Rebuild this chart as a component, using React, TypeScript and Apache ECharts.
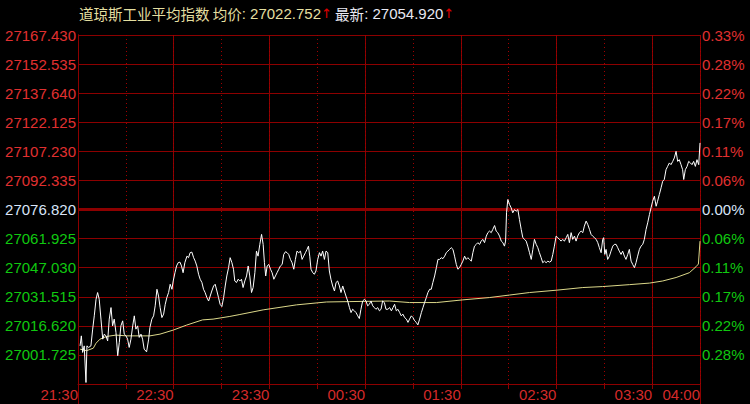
import React, { useEffect, useRef } from 'react';
import * as echarts from 'echarts';

// ---- title texts ----
const titleName = '道琼斯工业平均指数';
const avgLabel = '均价';
const avgValue = '27022.752';
const lastLabel = '最新';
const lastValue = '27054.920';

// ---- price axis (left) ----
const axisTop = 27167.43;
const axisBottom = 26986.21;
const prevClose = 27076.82;
const rows = 12;
const priceLabels = [
  '27167.430', '27152.535', '27137.640', '27122.125', '27107.230', '27092.335',
  '27076.820', '27061.925', '27047.030', '27031.515', '27016.620', '27001.725', '',
];
const pctLabels = [
  '0.33%', '0.28%', '0.22%', '0.17%', '0.11%', '0.06%',
  '0.00%', '0.06%', '0.11%', '0.17%', '0.22%', '0.28%', '',
];

// ---- time axis (minutes after 21:30) ----
const timeLabels = ['21:30', '22:30', '23:30', '00:30', '01:30', '02:30', '03:30', '04:00'];
const timeLabelMinutes = [0, 60, 120, 180, 240, 300, 360, 390];
const sessionMinutes = 390;

// ---- price line ----
const priceMinutes = [
  1.3, 2.1, 2.9, 3.9, 5.0, 5.6, 6.7, 8.1, 9.2, 10.2,
  11.3, 12.3, 13.3, 14.4, 15.5, 16.5, 17.5, 18.6, 19.6, 20.7,
  21.7, 22.7, 23.8, 24.9, 25.9, 26.9, 28.0, 29.0, 30.1, 31.1,
  32.1, 33.2, 34.3, 35.3, 36.3, 37.4, 38.4, 39.5, 40.5, 41.5,
  43.0, 44.3, 45.1, 46.3, 47.4, 48.4, 49.5, 50.5, 51.5, 52.6,
  53.7, 54.7, 55.7, 56.8, 57.8, 58.9, 59.7, 60.8, 61.8, 62.8,
  63.9, 64.9, 65.9, 67.0, 68.3, 69.3, 70.3, 71.4, 72.5, 73.5,
  74.5, 75.6, 76.6, 77.7, 78.7, 79.7, 80.8, 81.9, 82.9, 83.9,
  85.0, 86.0, 87.1, 88.1, 89.1, 90.2, 91.3, 92.3, 93.3, 94.4,
  95.4, 96.5, 97.5, 98.3, 99.4, 100.4, 101.5, 102.5, 103.5, 104.6,
  105.7, 106.7, 107.7, 108.8, 109.8, 110.9, 111.9, 112.9, 114.0, 115.1,
  116.1, 116.9, 117.7, 118.6, 119.6, 120.7, 121.7, 122.8, 123.8, 124.8,
  125.9, 126.9, 128.0, 129.0, 130.1, 131.1, 132.1, 133.2, 134.2, 135.3,
  136.3, 137.3, 138.4, 139.5, 140.5, 141.5, 142.6, 143.6, 144.5, 145.3,
  146.1, 147.2, 148.2, 149.2, 150.3, 151.4, 152.4, 153.4, 154.5, 155.5,
  156.6, 157.6, 158.6, 159.7, 160.8, 161.8, 162.8, 163.9, 164.9, 166.0,
  167.0, 168.0, 169.1, 170.2, 171.2, 172.2, 173.3, 174.3, 175.4, 176.4,
  177.4, 178.5, 179.6, 180.6, 181.6, 182.7, 183.7, 184.8, 185.8, 186.8,
  187.9, 189.0, 190.0, 191.0, 192.1, 193.1, 194.3, 195.4, 196.5, 197.5,
  198.5, 199.6, 200.6, 201.7, 202.7, 203.7, 204.8, 205.9, 206.9, 207.9,
  209.0, 210.0, 211.1, 212.1, 213.1, 214.2, 215.3, 216.3, 217.3, 218.4,
  219.4, 220.5, 221.5, 222.5, 223.6, 224.7, 225.7, 226.7, 227.8, 228.8,
  229.9, 230.9, 231.9, 233.0, 234.0, 235.1, 236.1, 237.2, 238.2, 239.2,
  240.3, 241.3, 242.4, 243.4, 244.4, 245.5, 246.6, 247.6, 248.6, 249.7,
  250.7, 251.8, 252.8, 253.8, 254.9, 256.0, 257.0, 258.0, 259.1, 260.1,
  261.2, 262.2, 263.2, 264.3, 265.4, 266.4, 267.4, 268.1, 268.7, 269.5,
  270.6, 271.6, 272.6, 273.7, 274.7, 275.8, 276.8, 277.9, 278.9, 280.0,
  281.0, 282.0, 283.1, 284.2, 285.2, 286.2, 287.3, 288.3, 289.3, 290.4,
  291.4, 292.5, 293.5, 294.6, 295.6, 296.7, 297.7, 298.7, 299.8, 300.8,
  301.9, 302.9, 303.9, 305.0, 306.1, 307.1, 308.1, 309.2, 310.2, 311.3,
  312.3, 313.3, 314.4, 315.5, 316.5, 317.5, 318.6, 319.6, 320.7, 321.7,
  322.7, 323.8, 324.9, 325.9, 326.9, 328.0, 329.0, 329.6, 330.3, 331.1,
  332.1, 333.2, 334.2, 335.3, 336.3, 337.4, 338.4, 339.4, 340.5, 341.5,
  342.6, 343.6, 344.7, 345.7, 346.8, 347.8, 348.9, 349.9, 350.9, 352.0,
  353.0, 354.1, 355.1, 356.2, 357.2, 358.3, 359.3, 360.3, 361.4, 362.5,
  363.4, 364.5, 365.6, 366.6, 367.6, 368.7, 369.7, 370.8, 371.8, 372.9,
  373.9, 375.0, 376.0, 377.0, 378.1, 379.1, 379.8, 380.8, 381.9, 382.9,
  384.0, 385.0, 386.0, 387.1, 388.1, 389.2, 390.0,
];
const prices = [
  27006.0, 27011.2, 27002.6, 27006.0, 26987.0, 27006.0, 27005.2, 27006.0, 27014.7, 27021.6,
  27030.2, 27033.7, 27030.2, 27019.9, 27009.5, 27012.1, 27011.2, 27008.6, 27019.9, 27025.9,
  27016.4, 27019.9, 27013.0, 27000.9, 27007.8, 27016.4, 27019.0, 27012.1, 27011.2, 27009.5,
  27005.2, 27009.5, 27016.4, 27021.6, 27014.7, 27016.4, 27010.4, 27012.1, 27009.5, 27004.3,
  27002.9, 27009.5, 27015.6, 27019.9, 27021.6, 27026.8, 27035.4, 27031.9, 27025.9, 27020.7,
  27022.5, 27027.6, 27031.1, 27033.7, 27038.0, 27035.4, 27039.7, 27044.0, 27047.5, 27049.2,
  27049.5, 27047.5, 27044.0, 27049.2, 27052.6, 27051.8, 27054.4, 27054.7, 27051.8, 27050.0,
  27047.5, 27043.2, 27040.6, 27038.9, 27035.4, 27033.7, 27031.1, 27029.3, 27031.9, 27034.5,
  27037.1, 27038.0, 27034.5, 27031.1, 27027.6, 27026.4, 27031.1, 27037.1, 27042.3, 27046.6,
  27051.8, 27049.2, 27045.8, 27039.7, 27038.9, 27040.6, 27039.7, 27040.6, 27036.3, 27039.7,
  27042.3, 27047.5, 27042.3, 27033.7, 27036.3, 27044.0, 27055.2, 27052.6, 27058.7, 27063.9,
  27058.7, 27049.2, 27042.3, 27047.5, 27048.3, 27045.8, 27044.0, 27040.6, 27042.3, 27044.0,
  27045.8, 27047.5, 27048.3, 27053.5, 27054.9, 27054.4, 27053.5, 27050.9, 27049.2, 27045.8,
  27050.9, 27055.2, 27054.4, 27055.2, 27050.9, 27052.6, 27054.4, 27056.1, 27057.8, 27052.6,
  27045.8, 27044.0, 27043.2, 27044.9, 27050.9, 27054.4, 27052.6, 27055.2, 27050.9, 27055.2,
  27054.4, 27044.9, 27040.6, 27037.1, 27034.5, 27038.9, 27039.7, 27037.1, 27033.7, 27037.1,
  27034.5, 27031.9, 27029.3, 27025.9, 27023.3, 27025.0, 27024.2, 27023.3, 27021.6, 27020.2,
  27025.0, 27029.3, 27030.2, 27029.3, 27026.8, 27027.6, 27029.3, 27026.8, 27025.9, 27025.0,
  27025.9, 27024.2, 27025.0, 27029.3, 27028.5, 27025.0, 27025.0, 27025.9, 27024.2, 27025.9,
  27027.6, 27024.2, 27025.0, 27023.3, 27021.6, 27022.5, 27020.7, 27019.9, 27018.2, 27019.9,
  27021.6, 27020.7, 27019.0, 27018.2, 27016.9, 27019.9, 27023.3, 27025.9, 27028.5, 27031.1,
  27033.7, 27035.4, 27035.4, 27038.9, 27042.3, 27046.6, 27050.9, 27050.9, 27051.8, 27051.3,
  27052.6, 27054.4, 27055.2, 27056.1, 27057.0, 27056.1, 27052.6, 27048.3, 27045.8, 27046.6,
  27048.3, 27050.0, 27052.6, 27050.9, 27051.8, 27050.9, 27050.0, 27054.4, 27057.8, 27058.7,
  27059.6, 27058.7, 27060.4, 27061.3, 27059.6, 27063.0, 27064.8, 27065.6, 27064.8, 27066.5,
  27068.5, 27065.6, 27064.8, 27063.0, 27060.4, 27059.6, 27057.8, 27060.4, 27075.1, 27082.0,
  27079.4, 27077.7, 27075.1, 27076.8, 27075.9, 27076.8, 27071.6, 27066.5, 27062.2, 27061.3,
  27060.4, 27057.8, 27054.4, 27050.9, 27056.1, 27061.3, 27058.7, 27057.0, 27054.4, 27051.8,
  27049.2, 27050.0, 27049.2, 27050.0, 27049.5, 27050.0, 27053.5, 27057.8, 27063.0, 27062.2,
  27061.3, 27060.4, 27061.3, 27060.4, 27062.2, 27063.9, 27059.6, 27064.8, 27061.3, 27063.0,
  27060.4, 27063.0, 27064.8, 27065.6, 27064.8, 27068.2, 27070.8, 27069.1, 27066.5, 27063.9,
  27063.0, 27062.2, 27061.3, 27059.6, 27057.0, 27054.4, 27061.3, 27062.2, 27053.5, 27056.1,
  27050.9, 27052.6, 27055.2, 27057.8, 27058.7, 27058.7, 27057.0, 27055.2, 27053.5, 27055.2,
  27052.6, 27050.9, 27053.5, 27056.1, 27050.0, 27048.3, 27046.6, 27049.2, 27052.6, 27056.1,
  27057.8, 27058.7, 27061.3, 27066.5, 27069.9, 27074.2, 27077.7, 27081.1, 27083.7, 27078.5,
  27081.1, 27084.6, 27088.1, 27091.5, 27092.4, 27097.5, 27099.2, 27101.0, 27100.1, 27101.8,
  27103.6, 27107.0, 27101.8, 27102.7, 27100.1, 27097.5, 27092.4, 27097.5, 27099.2, 27101.8,
  27101.0, 27100.1, 27101.8, 27099.2, 27102.7, 27100.1, 27111.4,
];

// ---- average price line ----
const avgMinutes = [
  1.3, 5.4, 9.6, 11.3, 13.8, 18.0, 23.8, 30.5, 45.1, 51.4,
  59.7, 68.1, 78.1, 84.7, 95.2, 101.5, 116.1, 137.0, 155.8, 170.4,
  195.4, 207.9, 224.7, 241.3, 258.0, 270.6, 283.1, 299.8, 316.5, 329.0,
  345.7, 358.3, 366.6, 375.0, 383.3, 387.5, 389.0, 390.0,
];
const avgPrices = [
  27004.3, 27003.5, 27004.8, 27007.4, 27009.5, 27010.9, 27011.6, 27011.2, 27011.2, 27012.1,
  27014.2, 27016.8, 27019.5, 27019.9, 27021.3, 27022.3, 27024.7, 27027.3, 27028.8, 27029.0,
  27029.3, 27028.5, 27028.5, 27029.9, 27031.1, 27032.4, 27033.7, 27034.9, 27036.3, 27036.8,
  27037.8, 27038.6, 27039.7, 27041.5, 27044.0, 27047.1, 27048.5, 27060.4,
];

// ---- styles ----
const GRID_RED = '#8c0000';
const LABEL_RED = '#e03030';
const TIME_RED = '#d42a2a';
const LABEL_GREEN = '#10c810';
const LABEL_NEUTRAL = '#d8e4f8';
const FONT = "'Liberation Sans', Arial, 'Noto Sans CJK SC', sans-serif";
const CJK_FONT = "'Noto Sans CJK SC', sans-serif";
const ARROW_FONT = "'DejaVu Sans', sans-serif";

const step = (axisTop - axisBottom) / rows;
const toUnit = (p: number) => (p - axisBottom) / step;
const centerRow = Math.round(toUnit(prevClose));

const labelColor = (v: any) => {
  const i = Math.round(Number(v));
  if (i > centerRow) return LABEL_RED;
  if (i === centerRow) return LABEL_NEUTRAL;
  return LABEL_GREEN;
};

function buildOption() {
  const priceData = priceMinutes.map((m, i) => [m, toUnit(prices[i])]);
  const avgData = avgMinutes.map((m, i) => [m, toUnit(avgPrices[i])]);
  const yBase = {
    type: 'value',
    min: 0,
    max: rows,
    interval: 1,
    axisTick: { show: false },
    axisLine: { show: true, lineStyle: { color: GRID_RED, width: 1 } },
  };
  const rt = (color: string, fontSize: number, fontFamily: string) => ({
    color,
    fontSize,
    fontFamily,
    fontWeight: 'normal',
    lineHeight: 19,
  });
  return {
    animation: false,
    backgroundColor: '#000',
    title: {
      left: 79,
      top: 4,
      padding: 0,
      text:
        `{c|${titleName} ${avgLabel}}{n|: ${avgValue}}{r|↑}` +
        `{c2| ${lastLabel}}{n2|: ${lastValue}}{r|↑}`,
      textStyle: {
        fontWeight: 'normal',
        rich: {
          c: rt('#e4dfa0', 14.5, CJK_FONT),
          n: rt('#e4dfa0', 15, FONT),
          c2: rt('#e8e8f2', 14.5, CJK_FONT),
          n2: rt('#e8e8f2', 15, FONT),
          r: rt('#e00000', 13, ARROW_FONT),
        },
      },
    },
    grid: { left: 78, right: 50, top: 35, bottom: 20, containLabel: false },
    xAxis: [
      {
        type: 'value',
        min: 0,
        max: sessionMinutes,
        interval: 60,
        position: 'bottom',
        axisLine: { show: true, lineStyle: { color: GRID_RED, width: 1 } },
        axisTick: { show: true, length: 5, lineStyle: { color: GRID_RED } },
        axisLabel: {
          show: true,
          align: 'right',
          margin: 3,
          color: TIME_RED,
          fontSize: 15,
          fontFamily: FONT,
          formatter: (v: number) => {
            const i = timeLabelMinutes.indexOf(Math.round(v));
            return i >= 0 ? timeLabels[i] : '';
          },
        },
        splitLine: { show: true, lineStyle: { color: GRID_RED, width: 1 } },
      },
      {
        type: 'value',
        min: 0,
        max: sessionMinutes,
        interval: 30,
        position: 'bottom',
        axisLine: { show: false },
        axisTick: { show: true, length: 5, lineStyle: { color: GRID_RED } },
        axisLabel: { show: false },
        splitLine: { show: true, lineStyle: { color: '#a00000', width: 1, type: [1, 3] } },
      },
      {
        type: 'value',
        min: 0,
        max: sessionMinutes,
        interval: sessionMinutes,
        position: 'bottom',
        axisLine: { show: false },
        axisTick: { show: true, length: 20, lineStyle: { color: GRID_RED } },
        axisLabel: { show: false },
        splitLine: { show: false },
      },
    ],
    yAxis: [
      {
        ...yBase,
        position: 'left',
        axisLabel: {
          margin: 2,
          fontSize: 15,
          fontFamily: FONT,
          color: labelColor,
          formatter: (v: number) => priceLabels[rows - Math.round(v)] ?? '',
        },
        splitLine: { show: true, lineStyle: { color: GRID_RED, width: 1 } },
      },
      {
        ...yBase,
        position: 'right',
        axisLabel: {
          margin: 2,
          fontSize: 15,
          fontFamily: FONT,
          color: labelColor,
          formatter: (v: number) => pctLabels[rows - Math.round(v)] ?? '',
        },
        splitLine: { show: false },
      },
    ],
    series: [
      {
        name: '均价',
        type: 'line',
        xAxisIndex: 0,
        yAxisIndex: 0,
        data: avgData,
        showSymbol: false,
        symbol: 'none',
        z: 6,
        lineStyle: { color: '#dcd88a', width: 1 },
        emphasis: { disabled: true },
        markLine: {
          silent: true,
          symbol: 'none',
          label: { show: false },
          lineStyle: { color: GRID_RED, width: 3, type: 'solid' },
          data: [{ yAxis: toUnit(prevClose) }],
        },
      },
      {
        name: '价格',
        type: 'line',
        xAxisIndex: 0,
        yAxisIndex: 0,
        data: priceData,
        showSymbol: false,
        symbol: 'none',
        z: 7,
        lineStyle: { color: '#ffffff', width: 1 },
        emphasis: { disabled: true },
      },
    ],
  };
}

export default function App() {
  const ref = useRef<HTMLDivElement>(null);
  useEffect(() => {
    document.body.style.margin = '0';
    document.body.style.background = '#000';
    const chart = echarts.init(ref.current as HTMLDivElement, null, { renderer: 'svg' });
    chart.setOption(buildOption() as any);
    return () => chart.dispose();
  }, []);
  return <div ref={ref} style={{ width: 750, height: 404, background: '#000' }} />;
}
